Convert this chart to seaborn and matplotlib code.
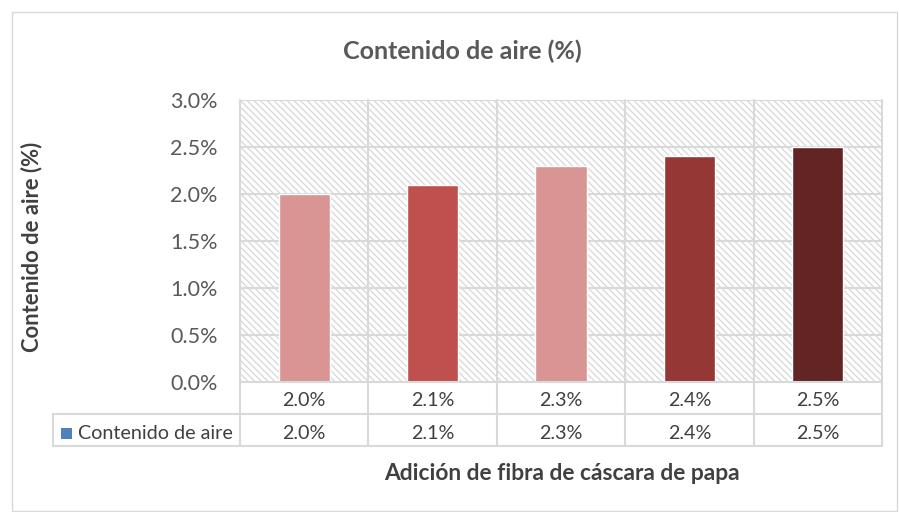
import matplotlib
matplotlib.use("Agg")
import matplotlib.pyplot as plt
import seaborn as sns
import pandas as pd
from matplotlib.patches import Rectangle
from matplotlib.lines import Line2D
from matplotlib.ticker import PercentFormatter

categories = ["2.0%", "2.1%", "2.3%", "2.4%", "2.5%"]
values = [0.020, 0.021, 0.023, 0.024, 0.025]
bar_colors = ["#D99594", "#C0504D", "#D99594", "#953735", "#632523"]
series_name = "Contenido de aire"
title = "Contenido de aire (%)"
ylabel = "Contenido de aire (%)"
xlabel = "Adición de fibra de cáscara de papa"

sns.set_theme(style="white")
plt.rcParams["font.family"] = ["Lato", "DejaVu Sans"]
plt.rcParams["hatch.linewidth"] = 1.0
plt.rcParams["hatch.color"] = "#DADADA"

W, H = 899, 512
fig = plt.figure(figsize=(W / 100, H / 100), dpi=100)

def fx(x):
    return x / W

def fy(y):
    return 1 - y / H

L, R, T, B = 240, 882, 100, 382
ax = fig.add_axes([fx(L), fy(B), fx(R) - fx(L), fy(T) - fy(B)])

df = pd.DataFrame({"cat": categories, "val": values})
# hatched background
bg = Rectangle((0, 0), 1, 1, transform=ax.transAxes, facecolor="white",
               edgecolor="#DADADA", hatch="\\" * 5, linewidth=0, zorder=0)
ax.add_patch(bg)
ax.set_facecolor("none")

sns.barplot(data=df, x="cat", y="val", hue="cat", palette=bar_colors,
            width=0.4, legend=False, ax=ax, zorder=3, saturation=1)

ax.set_ylim(0, 0.03)
ax.set_xlim(-0.5, len(categories) - 0.5)
ax.set_yticks([0, 0.005, 0.01, 0.015, 0.02, 0.025, 0.03])
ax.yaxis.set_major_formatter(PercentFormatter(1.0, decimals=1))
ax.tick_params(axis="y", labelsize=15.5, colors="#595959", length=0, pad=16)
ax.set_xticks([])
ax.set_xlabel("")
ax.set_ylabel("")
for s in ax.spines.values():
    s.set_visible(False)
for yv in [0.005, 0.01, 0.015, 0.02, 0.025, 0.03]:
    ax.axhline(yv, color="#D9D9D9", lw=1.5, zorder=1)

gc = "#D9D9D9"
def line(x0, y0, x1, y1):
    fig.add_artist(Line2D([fx(x0), fx(x1)], [fy(y0), fy(y1)], color=gc, lw=1.5))

# column boundaries
n = len(categories)
colw = (R - L) / n
for i in range(n + 1):
    line(L + i * colw, T, L + i * colw, 446)
line(L, B, R, B)
line(53, 414, R, 414)
line(53, 446, R, 446)
line(53, 414, 53, 446)

tc = "#404040"
for i, c in enumerate(categories):
    cx = L + (i + 0.5) * colw
    fig.text(fx(cx), fy(406), c, ha="center", va="baseline", fontsize=14.2, color=tc)
    fig.text(fx(cx), fy(439), f"{values[i]*100:.1f}%", ha="center", va="baseline",
             fontsize=14.2, color=tc)

fig.add_artist(Rectangle((fx(61), fy(439)), fx(11), fy(0) - fy(11), transform=fig.transFigure,
                         facecolor="#4F81BD", edgecolor="none"))
fig.text(fx(78), fy(439), series_name, ha="left", va="baseline", fontsize=14.2, color=tc)

fig.text(fx(462), fy(51), title, ha="center", va="center", fontsize=18,
         fontweight="bold", color="#595959")
fig.text(fx(32), fy(247), ylabel, ha="center", va="center", rotation=90, fontsize=15.8,
         fontweight="bold", color=tc)
fig.text(fx(562), fy(473), xlabel, ha="center", va="center", fontsize=16.4,
         fontweight="bold", color=tc)

# outer chart frame
fig.add_artist(Rectangle((fx(12), fy(511)), fx(885), fy(0) - fy(499), transform=fig.transFigure,
                         facecolor="none", edgecolor="#D9D9D9", lw=1))

fig.savefig("out.png", dpi=100)
